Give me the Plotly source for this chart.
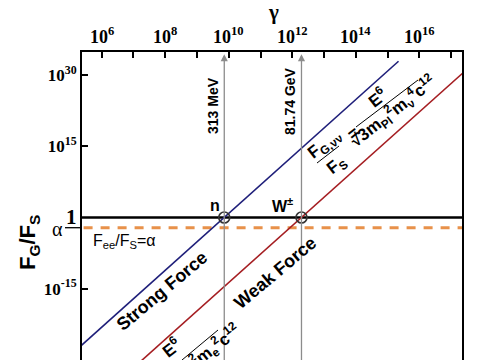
import math
import plotly.graph_objects as go

# ---- data ----
strong_gamma = [1e5, 2.2e15]
strong_ratio = [7e-30, 9e32]
weak_gamma = [1e7, 3e17]
weak_ratio = [2e-32, 1.4e31]
cross_gamma = [7.2e9, 1.94e12]      # n (313 MeV), W± (81.74 GeV)
cross_ratio = [1.0, 1.0]
cross_labels = ["313 MeV", "81.74 GeV"]
alpha = 1 / 137.036
x_tick_exps = list(range(6, 18))
x_label_exps = [6, 8, 10, 12, 14, 16]
y_tick_exps = [30, 15, -15, -30]

W, H = 485, 360
L, R, T, B = 82, 23, 52, 0
PW, PH = W - L - R, H - T - B
XR = [5.38, 17.34]
YR = [-30.05, 34.9]


def px(x):
    return (x - L) / PW


def py(y):
    return (H - B - y) / PH


fig = go.Figure()

fig.add_trace(go.Scatter(x=[10 ** XR[0], 10 ** XR[1]], y=[1, 1], mode="lines",
                         line=dict(color="black", width=2.5), showlegend=False))
fig.add_trace(go.Scatter(x=[10 ** (XR[0] + 0.05), 10 ** XR[1]], y=[alpha, alpha], mode="lines",
                         line=dict(color="#E8914A", width=3, dash="9px,8px"), showlegend=False))
fig.add_trace(go.Scatter(x=strong_gamma, y=strong_ratio, mode="lines",
                         line=dict(color="#1F1F7A", width=1.6), showlegend=False))
fig.add_trace(go.Scatter(x=weak_gamma, y=weak_ratio, mode="lines",
                         line=dict(color="#A51E22", width=1.6), showlegend=False))

for g in cross_gamma:
    fig.add_annotation(x=math.log10(g), y=34.45, ax=math.log10(g), ay=-32,
                       xref="x", yref="y", axref="x", ayref="y", text="",
                       showarrow=True, arrowhead=2, arrowsize=1.1, arrowwidth=1.3,
                       arrowcolor="#8C8C8C")

fig.add_trace(go.Scatter(x=cross_gamma, y=cross_ratio, mode="markers",
                         marker=dict(symbol="circle-open", size=11, color="#333333",
                                     line=dict(color="#333333", width=1.6)),
                         showlegend=False))

fig.update_xaxes(type="log", range=XR, side="top", showgrid=False, zeroline=False,
                 automargin=False,
                 showline=True, linecolor="black", linewidth=2, mirror=False,
                 ticks="inside", ticklen=6, tickwidth=1.5, tickcolor="black",
                 tickvals=[10 ** e for e in x_tick_exps], showticklabels=False)
fig.update_yaxes(type="log", range=YR, showgrid=False, zeroline=False,
                 automargin=False,
                 showline=True, linecolor="black", linewidth=2, mirror=True,
                 ticks="inside", ticklen=6, tickwidth=1.5, tickcolor="black",
                 tickvals=[10.0 ** e for e in y_tick_exps],
                 ticktext=["<b>10<sup>%d</sup></b>" % e for e in y_tick_exps],
                 tickfont=dict(family="Liberation Serif", size=17, color="black"))

# top tick labels placed at their data x positions
for e in x_label_exps:
    fig.add_annotation(x=e, xref="x", y=py(36), yref="paper",
                       text="<b>10<sup>%d</sup></b>" % e, showarrow=False,
                       font=dict(family="Liberation Serif", size=18, color="black"),
                       xanchor="center", yanchor="middle")

SANS = "Liberation Sans"


def text(x, y, s, size=15, angle=0, family=SANS, bold=True, color="black"):
    fig.add_annotation(x=px(x), y=py(y), xref="paper", yref="paper",
                       text=("<b>%s</b>" % s) if bold else s, showarrow=False,
                       textangle=angle, font=dict(family=family, size=size, color=color),
                       xanchor="center", yanchor="middle")


def seg(x0, y0, x1, y1, color="black", width=1):
    fig.add_shape(type="line", xref="paper", yref="paper",
                  x0=px(x0), y0=py(y0), x1=px(x1), y1=py(y1),
                  line=dict(color=color, width=width))


# axis titles
text(273, 12, "γ", size=21, family="Liberation Serif")
text(29, 243, "F<sub>G</sub>/F<sub>S</sub>", size=22, angle=-90)
text(71, 217, "1", size=21, family="Liberation Serif")
text(57, 229, "α", size=20, family="Liberation Serif", bold=False)
seg(65, 227.7, 82, 227.7, width=1.3)

# vertical labels
text(213, 106, cross_labels[0], size=14, angle=-90)
text(290, 101, cross_labels[1], size=14, angle=-90)

# point labels
text(215, 205, "n", size=16)
text(282, 205, "W<sup>±</sup>", size=16)
text(124, 242, "F<sub>ee</sub>/F<sub>S</sub>=α", size=16, bold=False)

# force labels
text(162, 291, "Strong Force", size=18, angle=-40)
text(275, 273, "Weak Force", size=18, angle=-40)

# neutrino formula
A = -38
text(325, 145, "F<sub>G,νν</sub>", size=17, angle=A)
text(337, 166, "F<sub>S</sub>", size=17, angle=A)
seg(317, 163, 339, 146)
text(353, 133, "=", size=17, angle=A)
text(377, 97, "E<sup>6</sup>", size=17, angle=A)
seg(356, 127, 418, 80)
text(393, 112, "√3m<sub>Pl</sub><sup>2</sup>m<sub>ν</sub><sup>4</sup>c<sup>12</sup>", size=17, angle=A)

# electron formula (partly cut)
text(171, 347, "E<sup>6</sup>", size=17, angle=A)
seg(182, 360, 218, 330)
text(197, 360, "√3m<sub>Pl</sub><sup>2</sup>m<sub>e</sub><sup>2</sup>c<sup>12</sup>", size=17, angle=A)

fig.update_layout(width=W, height=H, margin=dict(l=L, r=R, t=T, b=B, pad=0),
                  plot_bgcolor="white", paper_bgcolor="white", showlegend=False)

fig.write_html("out.html", config={"displayModeBar": False},
               post_script="document.body.style.margin='0';document.body.style.overflow='hidden';")
